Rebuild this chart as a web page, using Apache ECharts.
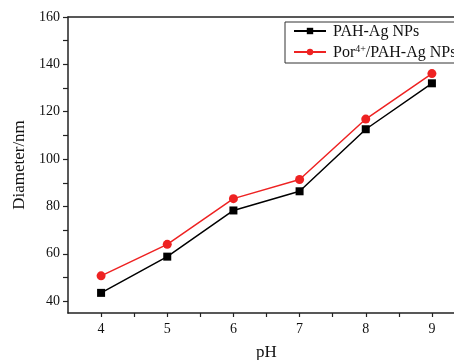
<!DOCTYPE html>
<html><head><meta charset="utf-8">
<script src="https://cdn.jsdelivr.net/npm/echarts@6/dist/echarts.min.js"></script>
<style>html,body{margin:0;padding:0;background:#fff}#c{width:454px;height:360px}</style>
</head><body><div id="c"></div>
<script>
var phValues = [4, 5, 6, 7, 8, 9];
var pahAg = [43.5, 58.8, 78.3, 86.4, 112.6, 132.0];
var porPahAg = [50.7, 64.0, 83.3, 91.4, 116.9, 136.1];
var xTickValues = [4, 4.5, 5, 5.5, 6, 6.5, 7, 7.5, 8, 8.5, 9, 9.5];
var xLabelValues = [4, 5, 6, 7, 8, 9];
var yTickValues = [40, 50, 60, 70, 80, 90, 100, 110, 120, 130, 140, 150, 160];
var yLabelValues = [40, 60, 80, 100, 120, 140, 160];
var seriesNames = ['PAH-Ag NPs', 'Por4+/PAH-Ag NPs'];

var font = 'Liberation Serif';
var axisCol = '#222';
function pairs(xs, ys){ return xs.map(function(x,i){return [x, ys[i]];}); }
var chart = echarts.init(document.getElementById('c'));
chart.setOption({
  animation: false,
  textStyle: {fontFamily: font},
  grid: {left: 68, right: -11, top: 17, bottom: 47, containLabel: false, outerBoundsMode: 'none'},
  legend: {
    left: 285, top: 22, orient: 'vertical', itemWidth: 32, itemHeight: 8, itemGap: 4,
    borderColor: '#333', borderWidth: 1, padding: [2, 8, 2, 8], borderRadius: 0,
    data: seriesNames,
    formatter: function(n){ return n === 'Por4+/PAH-Ag NPs' ? 'Por{sup|4+}/PAH-Ag NPs' : n; },
    textStyle: {fontFamily: font, fontSize: 16, color: '#111', padding: [2,0,0,2],
      rich: {sup: {fontFamily: font, fontSize: 10, verticalAlign: 'top', padding: [0,0,8,0], color: '#111'}}}
  },
  xAxis: [{
    type: 'value', min: 3.5, max: 9.5, position: 'bottom',
    name: 'pH', nameLocation: 'middle', nameGap: 31,
    nameTextStyle: {fontFamily: font, fontSize: 17, color: '#111'},
    axisLine: {lineStyle: {color: axisCol, width: 1.5}},
    axisTick: {inside: false, length: 4, customValues: xTickValues, lineStyle: {color: axisCol, width: 1.2}},
    axisLabel: {customValues: xLabelValues, margin: 9, fontFamily: font, fontSize: 14, color: '#111'},
    splitLine: {show: false}
  }, {
    type: 'value', min: 3.5, max: 9.5, position: 'top',
    axisLine: {lineStyle: {color: axisCol, width: 1.5}},
    axisTick: {show: false}, axisLabel: {show: false}, splitLine: {show: false}
  }],
  yAxis: {
    type: 'value', min: 35, max: 160,
    name: 'Diameter/nm', nameLocation: 'middle', nameGap: 31, nameRotate: 90,
    nameTextStyle: {fontFamily: font, fontSize: 17, color: '#111'},
    axisLine: {lineStyle: {color: axisCol, width: 1.5}},
    axisTick: {inside: false, length: 5, customValues: yTickValues, lineStyle: {color: axisCol, width: 1.2}},
    axisLabel: {customValues: yLabelValues, margin: 8, fontFamily: font, fontSize: 14, color: '#111'},
    splitLine: {show: false}
  },
  series: [{
    name: seriesNames[0], type: 'line', data: pairs(phValues, pahAg),
    symbol: 'rect', symbolSize: 8, color: '#000',
    lineStyle: {color: '#000', width: 1.5}, itemStyle: {color: '#000'}
  }, {
    name: seriesNames[1], type: 'line', data: pairs(phValues, porPahAg),
    symbol: 'circle', symbolSize: 9, color: '#ee2222',
    lineStyle: {color: '#ee2222', width: 1.5}, itemStyle: {color: '#ee2222'}
  }]
});
</script></body></html>
